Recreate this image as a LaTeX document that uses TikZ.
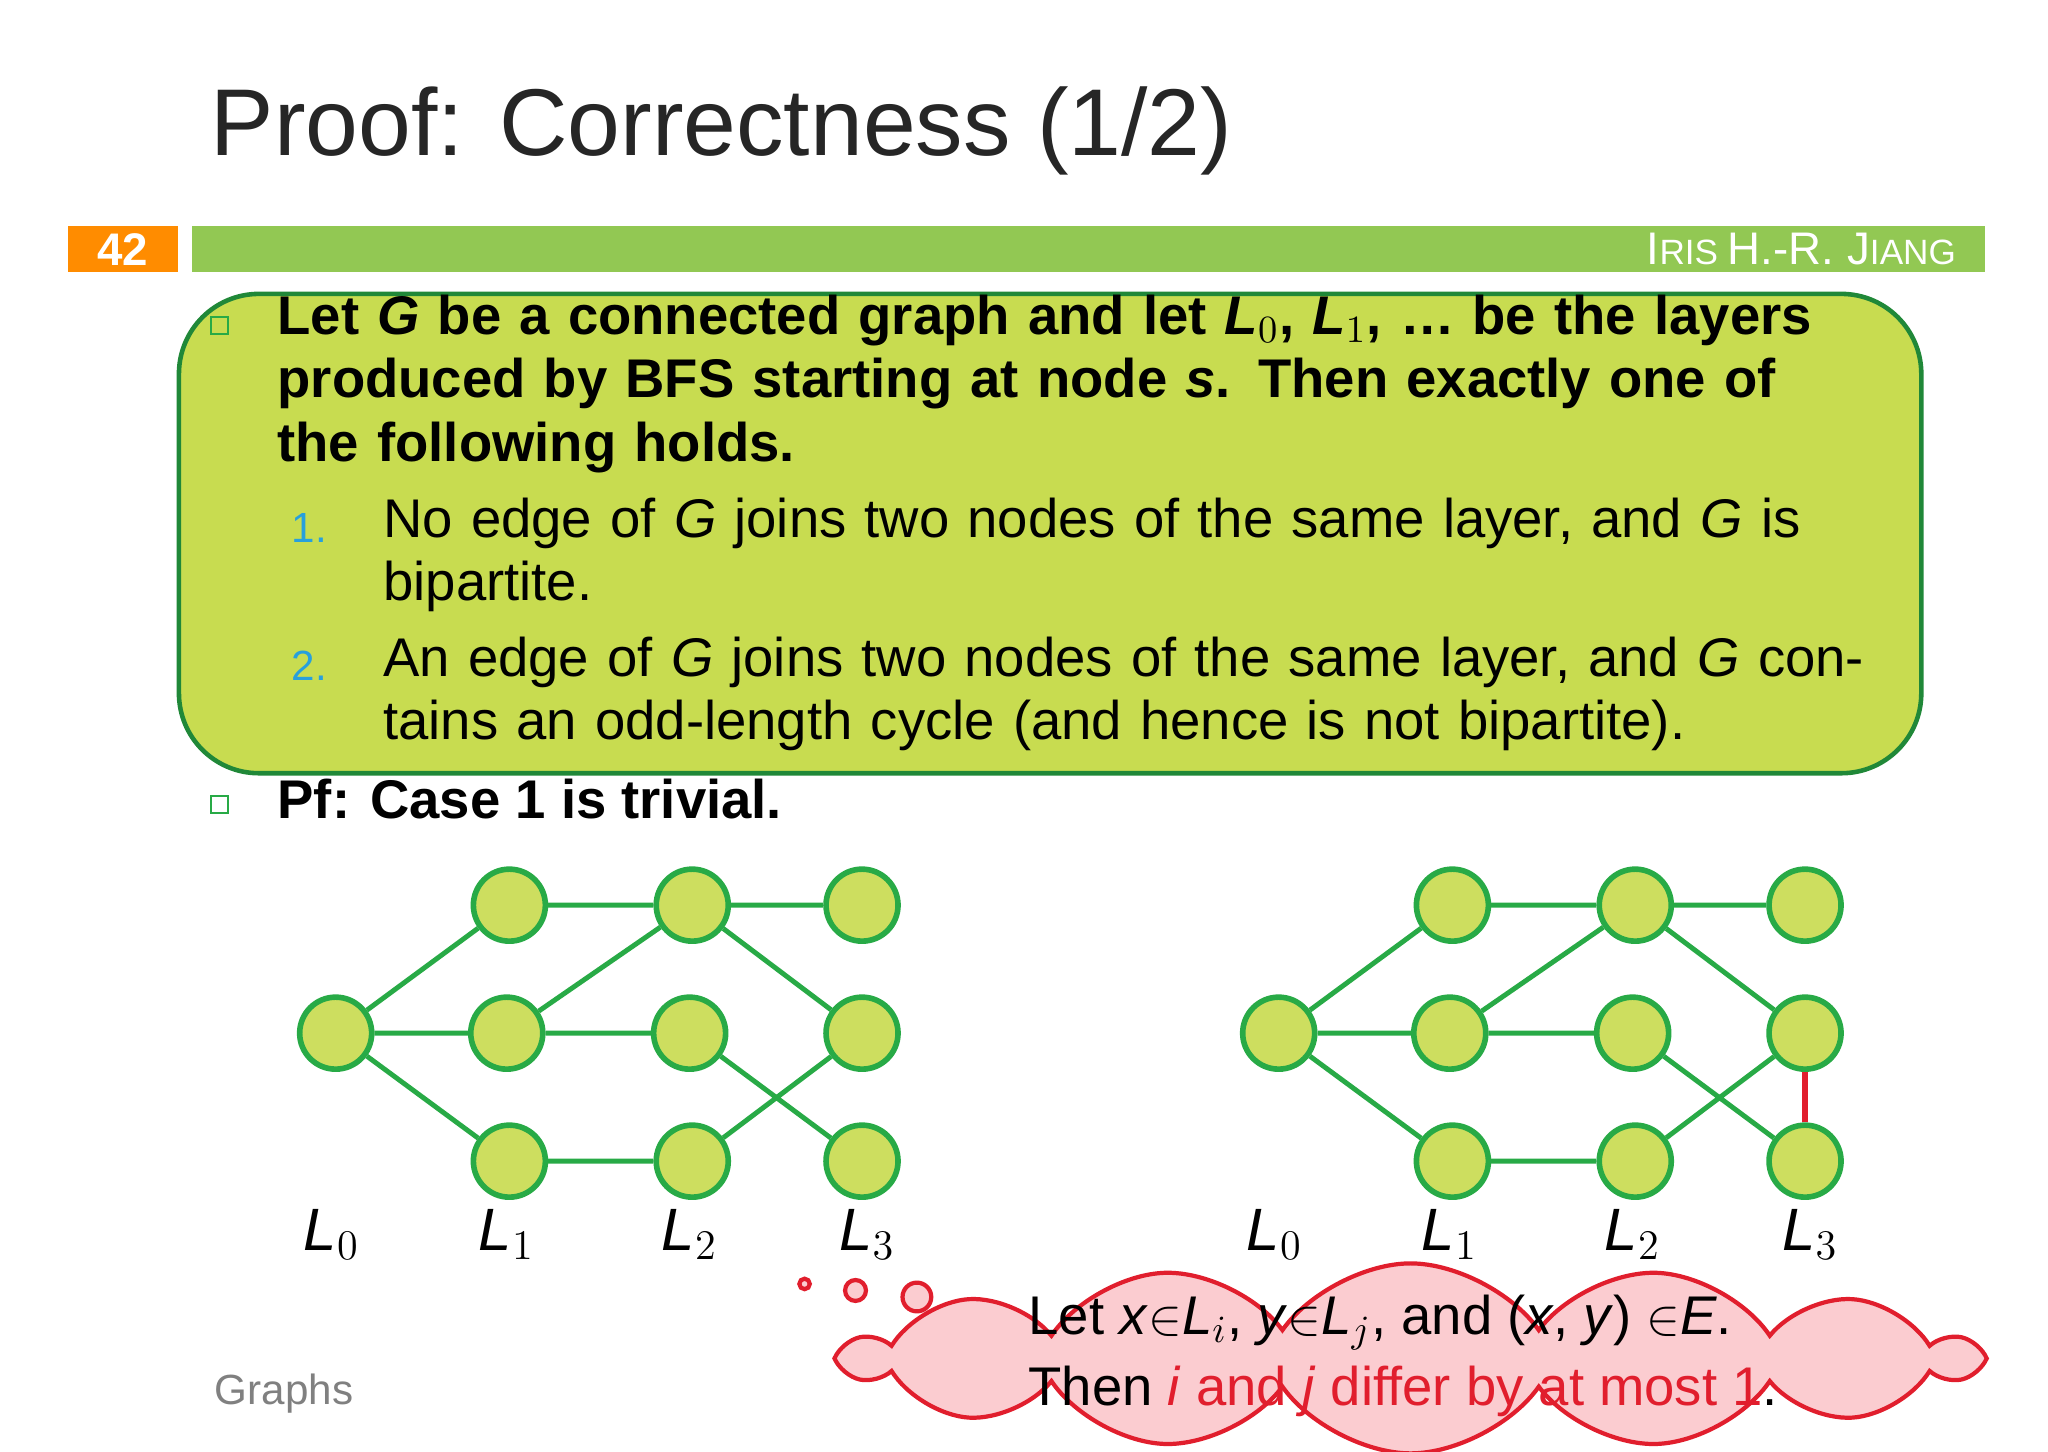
\documentclass[tikz,border=0pt]{standalone}
\usepackage{fontspec}
\setmainfont{Liberation Sans}
\usetikzlibrary{shapes.symbols}
\definecolor{barg}{RGB}{146,200,83}
\definecolor{nodef}{RGB}{205,222,95}
\definecolor{nodeb}{RGB}{40,170,70}
\definecolor{boxf}{RGB}{200,220,80}
\definecolor{numb}{RGB}{40,160,220}
\definecolor{pinkf}{RGB}{251,204,208}
\definecolor{cloudr}{RGB}{225,30,45}
\tikzset{
  vert/.style  ={circle,draw=nodeb,fill=nodef,line width=1.6pt,minimum size=0.72cm,inner sep=0pt},
  edge/.style  ={draw=nodeb,line width=1.4pt},
  lay/.style   ={font=\fontsize{17}{20}\selectfont},
  body/.style  ={anchor=west,font=\fontsize{15.5}{18}\selectfont},
  bul/.style   ={draw=nodeb,line width=0.6pt,minimum size=0.17cm,inner sep=0pt}
}
\begin{document}
\begin{tikzpicture}[x=0.01306cm,y=-0.01306cm]
\useasboundingbox (0,0) rectangle (1568,1111);
\fill[white] (0,0) rectangle (1568,1111);

% header
\node[anchor=west,font=\fontsize{27}{30}\selectfont,text=black!85] (title) at (152,100) {Proof: Correctness (1/2)};
\fill[orange!90!yellow] (52,173) rectangle (136,208);
\node[text=white,font=\bfseries\fontsize{13}{15}\selectfont] (num) at (94,191) {42};
\fill[barg] (147,173) rectangle (1520,208);
\node[anchor=east,text=white,font=\fontsize{13}{15}\selectfont] (auth) at (1507,191) {I\fontsize{10}{12}\selectfont RIS \fontsize{13}{15}\selectfont H.-R. J\fontsize{10}{12}\selectfont IANG};

% theorem box
\draw[fill=boxf,draw=nodeb!80!black,line width=1.3pt,rounded corners=0.8cm] (137,225) rectangle (1471,592);
\node[bul] (b1) at (168,249) {};
\node[body,font=\bfseries\fontsize{15.5}{18}\selectfont,text width=15.6cm] (thm) at (203,294)
 {Let \textit{G} be a connected graph and let \textit{L}$_0$, \textit{L}$_1$, \dots\ be the layers
  produced by BFS starting at node \textit{s}. Then exactly one of the
  following holds.};
\node[anchor=west,text=numb,font=\fontsize{12}{14}\selectfont] (n1) at (214,404) {1.};
\node[body,text width=14.6cm] (it1) at (284,425)
 {No edge of \textit{G} joins two nodes of the same layer, and \textit{G} is bipartite.};
\node[anchor=west,text=numb,font=\fontsize{12}{14}\selectfont] (n2) at (214,510) {2.};
\node[body,text width=15.1cm] (it2) at (284,531)
 {An edge of \textit{G} joins two nodes of the same layer, and \textit{G} contains
  an odd-length cycle (and hence is not bipartite).};
\node[bul] (b2) at (168,616) {};
\node[body,font=\bfseries\fontsize{15.5}{18}\selectfont] (pf) at (203,612) {Pf: Case 1 is trivial.};

% graphs
\foreach \g/\dx in {a/0,b/722}{
  \node[vert] (\g0)  at (257+\dx,791) {};
  \node[vert] (\g1t) at (390+\dx,693) {};
  \node[vert] (\g1m) at (388+\dx,791) {};
  \node[vert] (\g1b) at (390+\dx,889) {};
  \node[vert] (\g2t) at (530+\dx,693) {};
  \node[vert] (\g2m) at (528+\dx,791) {};
  \node[vert] (\g2b) at (530+\dx,889) {};
  \node[vert] (\g3t) at (660+\dx,693) {};
  \node[vert] (\g3m) at (660+\dx,791) {};
  \node[vert] (\g3b) at (660+\dx,889) {};
  \draw[edge] (\g0) -- (\g1t) (\g0) -- (\g1m) (\g0) -- (\g1b)
    (\g1t) -- (\g2t) (\g2t) -- (\g3t) (\g1m) -- (\g2t) (\g1m) -- (\g2m)
    (\g2t) -- (\g3m) (\g2m) -- (\g3b) (\g3m) -- (\g2b) (\g1b) -- (\g2b);
  \node[lay] (\g l0) at (254+\dx,945) {\textit{L}$_0$};
  \node[lay] (\g l1) at (388+\dx,945) {\textit{L}$_1$};
  \node[lay] (\g l2) at (528+\dx,945) {\textit{L}$_2$};
  \node[lay] (\g l3) at (664+\dx,945) {\textit{L}$_3$};
}
\draw[draw=cloudr,line width=1.6pt] (b3m) -- (b3b);

% thought cloud
\node[cloud,cloud puffs=14,cloud puff arc=110,aspect=5.5,draw=cloudr,fill=pinkf,line width=1.2pt,
      minimum width=11.3cm,minimum height=1.9cm] (cl) at (1080,1040) {};
\foreach \cx/\cy/\r in {616/983/4,655/988/8,702/993/11}
  \draw[draw=cloudr,fill=pinkf,line width=1.2pt] (\cx,\cy) circle (\r);
\node[anchor=west,font=\fontsize{15.5}{20}\selectfont,align=left] (msg) at (778,1038)
 {Let \textit{x}$\in$\textit{L}$_i$, \textit{y}$\in$\textit{L}$_j$, and (\textit{x}, \textit{y}) $\in$\textit{E}.\\
  Then \textcolor{cloudr}{\textit{i} and \textit{j} differ by at most 1}.};

\node[anchor=west,text=gray,font=\fontsize{12}{14}\selectfont] (foot) at (155,1067) {Graphs};
\end{tikzpicture}
\end{document}
